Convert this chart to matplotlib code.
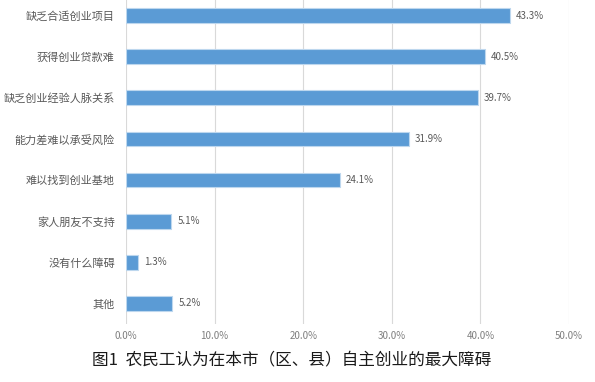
import matplotlib.pyplot as plt
from matplotlib.ticker import FuncFormatter

plt.rcParams['font.family'] = ['Noto Sans CJK SC', 'DejaVu Sans']

categories = ['缺乏合适创业项目', '获得创业贷款难', '缺乏创业经验人脉关系', '能力差难以承受风险',
              '难以找到创业基地', '家人朋友不支持', '没有什么障碍', '其他']
values = [43.3, 40.5, 39.7, 31.9, 24.1, 5.1, 1.3, 5.2]
xticks = [0, 10, 20, 30, 40, 50]
title = '图1  农民工认为在本市（区、县）自主创业的最大障碍'

fig = plt.figure(figsize=(5.95, 3.82), dpi=100)
ax = fig.add_axes([126/595, 1 - 324/382, (569-126)/595, 329/382])

pos = list(range(len(categories)))
ax.barh(pos, values, height=0.36, color='#5B9BD5', edgecolor='#BDD7EE', linewidth=0.8, zorder=3)
for p, v in zip(pos, values):
    ax.text(v + 0.7, p, f'{v:.1f}%', va='center', ha='left', fontsize=7, color='#595959')

ax.set_ylim(len(categories) - 0.5, -0.5)
ax.set_xlim(0, 50)
ax.set_yticks(pos)
ax.set_yticklabels(categories, fontsize=8, color='#595959')
ax.set_xticks(xticks)
ax.xaxis.set_major_formatter(FuncFormatter(lambda x, _: f'{x:.1f}%'))
ax.tick_params(axis='x', labelsize=7, labelcolor='#7F7F7F', length=0, pad=5)
ax.tick_params(axis='y', length=0, pad=8)
ax.grid(axis='x', color='#D9D9D9', linewidth=0.8, zorder=0)
for s in ax.spines.values():
    s.set_visible(False)

fig.text(0.49, 1 - 360/382, title, ha='center', va='center', fontsize=12, color='#1a1a1a')

fig.savefig('out.png', dpi=100)
